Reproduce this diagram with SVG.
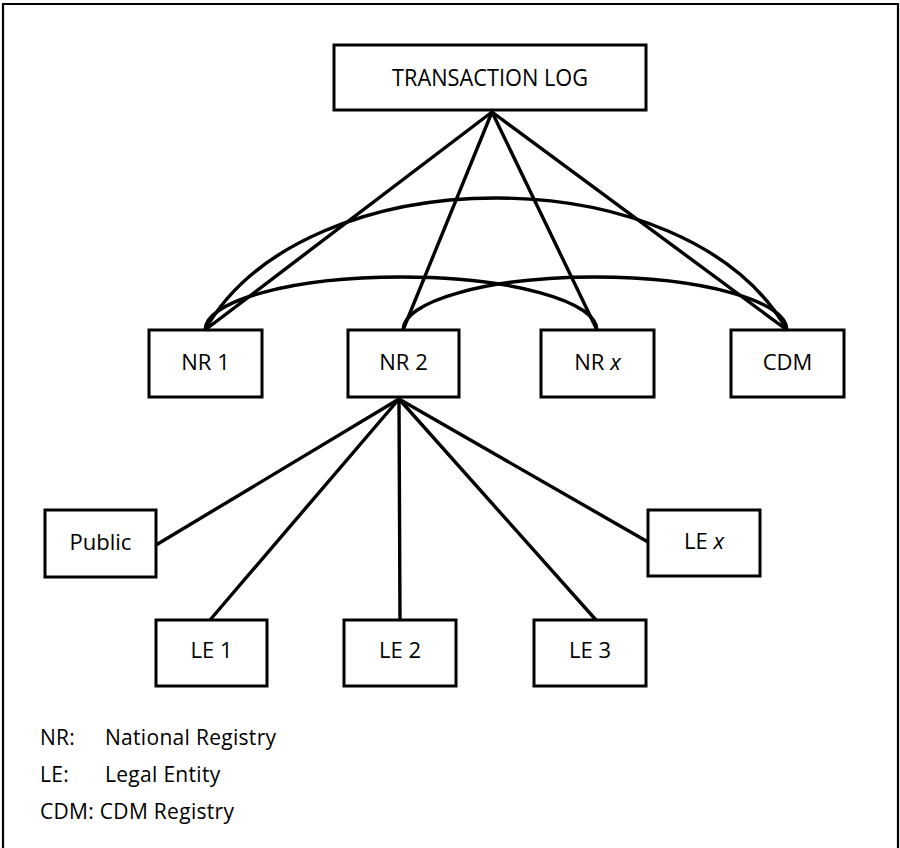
<svg xmlns="http://www.w3.org/2000/svg" width="900" height="848" viewBox="0 0 900 848">
<style>
.box{fill:#fff;stroke:#000;stroke-width:3}
.lbl{font-family:"Open Sans","Noto Sans","Liberation Sans",sans-serif;font-size:22px;fill:#000;text-anchor:middle}
.leg{font-family:"Open Sans","Noto Sans","Liberation Sans",sans-serif;font-size:21px;letter-spacing:0.3px;fill:#000}
.con{fill:none;stroke:#000;stroke-width:3.4;stroke-linecap:round}
.frame{fill:none;stroke:#000;stroke-width:2.2}
</style>
<rect width="900" height="848" fill="#fff"/>
<path class="frame" d="M3,848 V4 H898 V848"/>
<g id="connectors">
  <line class="con" x1="492" y1="112" x2="205" y2="330"/>
  <line class="con" x1="492" y1="112" x2="403" y2="330"/>
  <line class="con" x1="492" y1="112" x2="597" y2="330"/>
  <line class="con" x1="492" y1="112" x2="787" y2="330"/>
  <path class="con" d="M205,330 C305,154 687,154 787,330"/>
  <path class="con" d="M205,330 A196,53 0 0 1 597,330"/>
  <path class="con" d="M403,330 A192,53 0 0 1 787,330"/>
  <line class="con" x1="399" y1="399" x2="156" y2="545"/>
  <line class="con" x1="399" y1="399" x2="210" y2="620"/>
  <line class="con" x1="399" y1="399" x2="400" y2="620"/>
  <line class="con" x1="399" y1="399" x2="596" y2="620"/>
  <line class="con" x1="399" y1="399" x2="648" y2="542"/>
</g>
<g id="transaction-log">
  <rect class="box" x="334" y="45" width="312" height="65"/>
  <text class="lbl" x="490" y="86" style="font-size:23px" textLength="196" lengthAdjust="spacingAndGlyphs">TRANSACTION LOG</text>
</g>
<g id="nr1">
  <rect class="box" x="149" y="330" width="113" height="67"/>
  <text class="lbl" x="205.5" y="370">NR 1</text>
</g>
<g id="nr2">
  <rect class="box" x="348" y="330" width="111" height="67"/>
  <text class="lbl" x="403.5" y="370">NR 2</text>
</g>
<g id="nrx">
  <rect class="box" x="541" y="330" width="113" height="67"/>
  <text class="lbl" x="597.5" y="370">NR <tspan font-style="italic">x</tspan></text>
</g>
<g id="cdm">
  <rect class="box" x="731" y="330" width="113" height="67"/>
  <text class="lbl" x="787.5" y="370">CDM</text>
</g>
<g id="public">
  <rect class="box" x="45" y="510" width="111" height="67"/>
  <text class="lbl" x="100.5" y="550">Public</text>
</g>
<g id="lex">
  <rect class="box" x="648" y="510" width="112" height="66"/>
  <text class="lbl" x="704" y="549">LE <tspan font-style="italic">x</tspan></text>
</g>
<g id="le1">
  <rect class="box" x="156" y="620" width="111" height="66"/>
  <text class="lbl" x="211.5" y="658">LE 1</text>
</g>
<g id="le2">
  <rect class="box" x="344" y="620" width="112" height="66"/>
  <text class="lbl" x="400" y="658">LE 2</text>
</g>
<g id="le3">
  <rect class="box" x="534" y="620" width="112" height="66"/>
  <text class="lbl" x="590" y="658">LE 3</text>
</g>
<g id="legend">
  <text class="leg" x="40" y="745">NR:</text>
  <text class="leg" x="105" y="745">National Registry</text>
  <text class="leg" x="40" y="782">LE:</text>
  <text class="leg" x="105" y="782">Legal Entity</text>
  <text class="leg" x="40" y="819">CDM: CDM Registry</text>
</g>
</svg>
